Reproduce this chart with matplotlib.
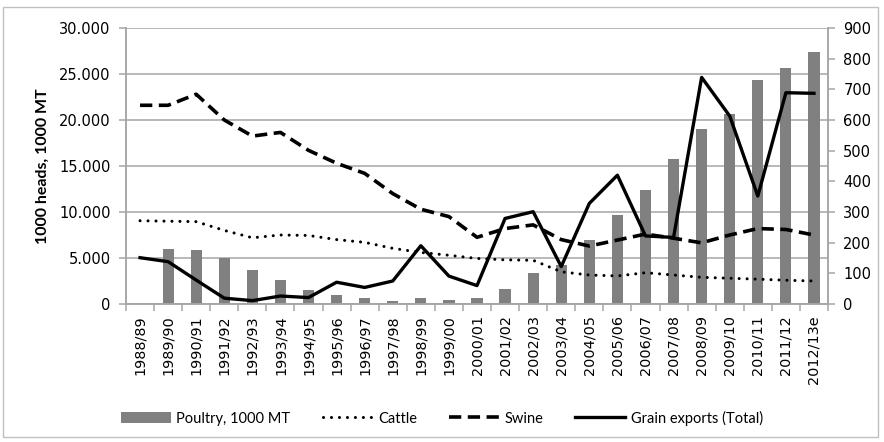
import matplotlib
matplotlib.use("Agg")
import matplotlib.pyplot as plt
from matplotlib.patches import Rectangle
from matplotlib.ticker import FuncFormatter

plt.rcParams['font.family'] = ['Lato', 'DejaVu Sans']

years = ["1988/89", "1989/90", "1990/91", "1991/92", "1992/93", "1993/94", "1994/95",
         "1995/96", "1996/97", "1997/98", "1998/99", "1999/00", "2000/01", "2001/02",
         "2002/03", "2003/04", "2004/05", "2005/06", "2006/07", "2007/08", "2008/09",
         "2009/10", "2010/11", "2011/12", "2012/13e"]

# left axis, 1000 heads / 1000 MT
poultry = [0, 5950, 5850, 4950, 3750, 2600, 1500, 980, 700, 330, 650, 400, 680, 1660,
           3400, 4200, 7000, 9650, 12400, 15800, 19000, 20700, 24400, 25600, 27400]
cattle = [9050, 9000, 8950, 8000, 7200, 7500, 7450, 7000, 6700, 6050, 5600, 5300, 4950,
          4800, 4750, 3500, 3150, 3050, 3400, 3150, 2900, 2800, 2700, 2580, 2500]
swine = [21600, 21600, 22800, 20000, 18250, 18650, 16700, 15300, 14200, 12000, 10300,
         9500, 7250, 8200, 8600, 7000, 6300, 6950, 7600, 7150, 6650, 7500, 8200, 8100, 7500]
# right axis
grain = [151, 138, 78, 19, 11, 26, 21, 71, 54, 75, 190, 91, 60, 279, 301, 122, 328, 420,
         222, 217, 739, 613, 352, 689, 687]

W, H = 884, 442
fig = plt.figure(figsize=(W / 100, H / 100), dpi=100)
ax = fig.add_axes([126 / W, 1 - 304 / H, (828 - 126) / W, (304 - 28) / H])
ax2 = ax.twinx()

gray = "#a6a6a6"
x = list(range(len(years)))

ax.bar(x, poultry, width=0.4, color="#808080", zorder=2, label="Poultry, 1000 MT")
ax.plot(x, cattle, color="black", lw=2.2, dashes=(0.01, 2.6), dash_capstyle="round",
        zorder=3, label="Cattle")
ax.plot(x, swine, color="black", lw=2.6, dashes=(3.4, 1.8), zorder=3, label="Swine")
ax2.plot(x, grain, color="black", lw=2.4, zorder=4, label="Grain exports (Total)")

ax.set_xlim(-0.5, len(years) - 0.5)
ax.set_ylim(0, 30000)
ax2.set_ylim(0, 900)
ax.set_yticks(range(0, 30001, 5000))
ax2.set_yticks(range(0, 901, 100))
ax.yaxis.set_major_formatter(FuncFormatter(lambda v, p: f"{int(v):,}".replace(",", ".")))

ax.grid(axis="y", color=gray, lw=1.1, zorder=0)
ax.set_axisbelow(True)

# category boundaries as ticks, labels at centres
ax.set_xticks([i - 0.5 for i in range(len(years) + 1)])
ax.set_xticklabels([])
ax.set_xticks(x, minor=True)
ax.set_xticklabels(years, minor=True, rotation=90, fontsize=10.4, family="DejaVu Sans")
ax.tick_params(axis="x", which="minor", length=0, pad=8)
ax.tick_params(axis="x", which="major", length=5, color=gray, width=1.1)
for a in (ax, ax2):
    a.tick_params(axis="y", length=5, color=gray, width=1.1, labelsize=10.5, pad=6)
    for t in a.get_yticklabels():
        t.set_family("DejaVu Sans")

for a in (ax, ax2):
    a.spines["top"].set_visible(False)
    for s in ("left", "right", "bottom"):
        a.spines[s].set_color(gray)
        a.spines[s].set_linewidth(1.1)

ax.set_ylabel("1000 heads, 1000 MT", fontsize=11.5, fontweight="bold", labelpad=7)

h1, l1 = ax.get_legend_handles_labels()
h2, l2 = ax2.get_legend_handles_labels()
order = [2, 0, 1]
handles = [h1[i] for i in order] + h2
labels = [l1[i] for i in order] + l2
fig.legend(handles, labels, loc="center", bbox_to_anchor=(0.5, 1 - 418 / H), ncol=4,
           frameon=False, fontsize=10.5, handlelength=3.4, handletextpad=0.4,
           columnspacing=2.2)

fig.patches.append(Rectangle((3 / W, 5 / H), (878 - 3) / W, (435 - 5) / H,
                             transform=fig.transFigure, fill=False, ec="#c0c0c0", lw=1))

fig.savefig("out.png", dpi=100)
